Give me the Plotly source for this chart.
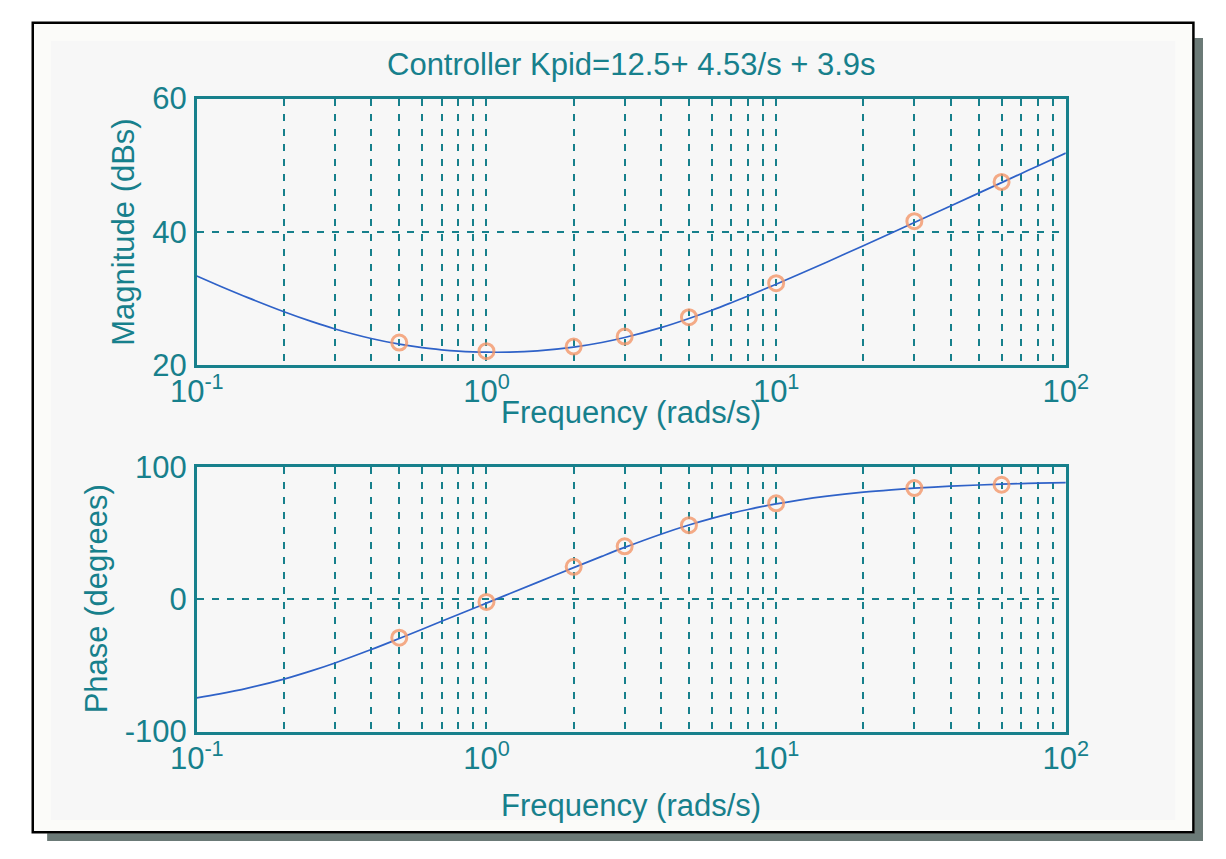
import plotly.graph_objects as go

W, H = 1226, 859

# Frequency response of the PID controller (rad/s, dB, degrees)
freq = [0.1, 0.12, 0.15, 0.2, 0.25, 0.3, 0.4, 0.5, 0.6, 0.7, 0.8, 0.9, 1.0,
        1.2, 1.5, 2, 2.5, 3, 4, 5, 6, 7, 8,
        10, 12, 15, 20, 25, 30, 40, 50, 60, 70, 80, 100]
mag_db = [33.37, 31.89, 30.14, 28.02, 26.53, 25.44, 24.01, 23.16, 22.63, 22.31, 22.11, 22.00, 21.95,
          21.96, 22.16, 22.72, 23.41, 24.15, 25.63, 27.01, 28.25, 29.38, 30.39,
          32.15, 33.64, 35.49, 37.93, 39.84, 41.40, 43.88, 45.81, 47.39, 48.73, 49.89, 51.82]
phase_deg = [-74.45, -71.47, -67.11, -60.28, -53.91, -48.10, -37.99, -29.63, -22.63, -16.66, -11.50, -6.95, -2.89,
             4.14, 12.76, 23.89, 32.42, 39.19, 49.17, 56.09, 61.10, 64.88, 67.80,
             72.03, 74.93, 77.88, 80.87, 82.68, 83.89, 85.42, 86.33, 86.94, 87.38, 87.71, 88.16]

# Measured points
meas_freq = [0.5, 1, 2, 3, 5, 10, 30, 60]
meas_mag = [23.4, 22.1, 22.8, 24.3, 27.2, 32.3, 41.6, 47.5]
meas_phase = [-29.0, -2.0, 24.5, 40.0, 56.0, 72.5, 84.0, 86.5]

# Grid positions and labels on the log frequency axis
x_grid = [m * 10 ** e for e in (-1, 0, 1) for m in range(1, 10)] + [100]
x_text = ["10<sup>-1</sup>" if v == 0.1 else "10<sup>0</sup>" if v == 1
          else "10<sup>1</sup>" if v == 10 else "10<sup>2</sup>" if v == 100 else ""
          for v in x_grid]
mag_ticks = [20, 40, 60]
mag_text = ["20", "40", "60"]
phase_ticks = [-100, 0, 100]
phase_text = ["-100", "0", "100"]

TEAL = "#17808c"
BLUE = "#2f62c8"
ORANGE = "rgba(242,150,105,0.8)"
FONT = "Liberation Sans, Arial, sans-serif"
FS = 31


def px(x):
    return x / W


def py(y):
    return 1 - y / H


fig = go.Figure()

marker_style = dict(symbol="circle-open", size=15, color=ORANGE, line=dict(width=3, color=ORANGE))

fig.add_trace(go.Scatter(x=freq, y=mag_db, mode="lines", line=dict(color=BLUE, width=1.7, shape="spline"),
                         xaxis="x", yaxis="y", showlegend=False))
fig.add_trace(go.Scatter(x=meas_freq, y=meas_mag, mode="markers", marker=marker_style,
                         xaxis="x", yaxis="y", showlegend=False))
fig.add_trace(go.Scatter(x=freq, y=phase_deg, mode="lines", line=dict(color=BLUE, width=1.7, shape="spline"),
                         xaxis="x2", yaxis="y2", showlegend=False))
fig.add_trace(go.Scatter(x=meas_freq, y=meas_phase, mode="markers", marker=marker_style,
                         xaxis="x2", yaxis="y2", showlegend=False))

xcommon = dict(type="log", range=[-1, 2], tickvals=x_grid, ticktext=x_text, showgrid=True,
               gridcolor=TEAL, gridwidth=2, griddash="7px,8px", showline=True, linecolor=TEAL,
               linewidth=2.5, mirror=True, ticks="", tickfont=dict(family=FONT, size=FS, color=TEAL),
               ticklabelstandoff=-3, zeroline=False, fixedrange=True)
ycommon = dict(showgrid=True, gridcolor=TEAL, gridwidth=2, griddash="7px,8px", showline=True,
               linecolor=TEAL, linewidth=2.5, mirror=True, ticks="", zeroline=False,
               tickfont=dict(family=FONT, size=FS, color=TEAL), ticklabelstandoff=1, fixedrange=True)

x_dom = [px(177), px(1083)]

fig.update_layout(
    width=W, height=H, autosize=False,
    margin=dict(l=0, r=0, t=0, b=0, pad=0),
    paper_bgcolor="#ffffff",
    plot_bgcolor="rgba(0,0,0,0)",
    xaxis=dict(domain=x_dom, anchor="y", **xcommon),
    yaxis=dict(domain=[py(363), py(85)], anchor="x", range=[20, 60], tickvals=mag_ticks,
               ticktext=mag_text, **ycommon),
    xaxis2=dict(domain=x_dom, anchor="y2", **xcommon),
    yaxis2=dict(domain=[py(745), py(469)], anchor="x2", range=[-100, 100], tickvals=phase_ticks,
                ticktext=phase_text, **ycommon),
    shapes=[
        # drop shadow
        dict(type="rect", xref="paper", yref="paper", x0=px(1217), x1=1, y0=0, y1=py(22),
             fillcolor="#6b7a77", line=dict(width=0), layer="below"),
        dict(type="rect", xref="paper", yref="paper", x0=px(21), x1=1, y0=0, y1=py(851),
             fillcolor="#6b7a77", line=dict(width=0), layer="below"),
        # page with black frame
        dict(type="rect", xref="paper", yref="paper", x0=px(6), x1=px(1216), y0=py(850), y1=py(6),
             fillcolor="#fbfbf9", line=dict(color="#000000", width=2.5), layer="below"),
        # inner panel
        dict(type="rect", xref="paper", yref="paper", x0=px(25), x1=px(1197), y0=py(837), y1=py(25),
             fillcolor="#f7f7f7", line=dict(width=0), layer="below"),
    ],
    annotations=[
        dict(text="Controller Kpid=12.5+ 4.53/s + 3.9s", xref="paper", yref="paper", x=px(630), y=py(50),
             showarrow=False, font=dict(family=FONT, size=FS, color=TEAL), xanchor="center", yanchor="middle"),
        dict(text="Frequency (rads/s)", xref="paper", yref="paper", x=px(630), y=py(412),
             showarrow=False, font=dict(family=FONT, size=FS, color=TEAL), xanchor="center", yanchor="middle"),
        dict(text="Frequency (rads/s)", xref="paper", yref="paper", x=px(630), y=py(822),
             showarrow=False, font=dict(family=FONT, size=FS, color=TEAL), xanchor="center", yanchor="middle"),
        dict(text="Magnitude (dBs)", xref="paper", yref="paper", x=px(101), y=py(224), textangle=-90,
             showarrow=False, font=dict(family=FONT, size=FS, color=TEAL), xanchor="center", yanchor="middle"),
        dict(text="Phase (degrees)", xref="paper", yref="paper", x=px(72), y=py(607), textangle=-90,
             showarrow=False, font=dict(family=FONT, size=FS, color=TEAL), xanchor="center", yanchor="middle"),
    ],
)

fig.write_html("out.html", config={"responsive": False},
               post_script="document.body.style.margin='0';document.body.style.overflow='hidden';")
